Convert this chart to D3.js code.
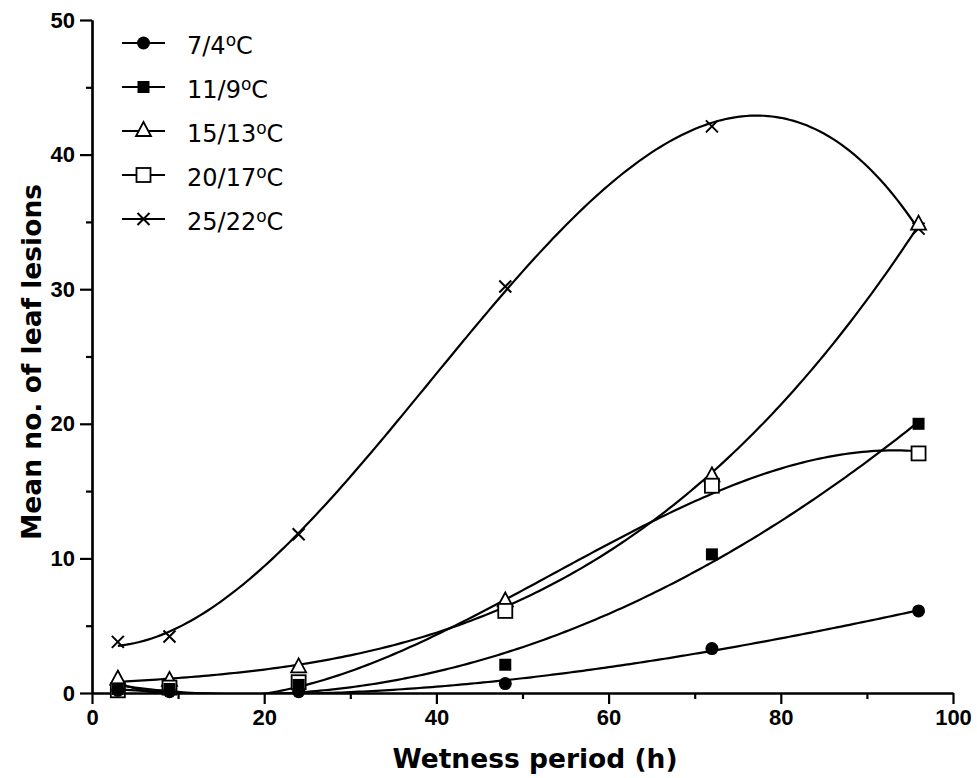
<!DOCTYPE html>
<html lang="en">
<head>
<meta charset="utf-8">
<title>Leaf lesions vs wetness period</title>
<style>
  body { margin: 0; background: #fff; }
  svg { display: block; font-family: "DejaVu Sans", sans-serif; }
  .tick text { font-weight: bold; font-size: 22px; }
  .axis-title { font-weight: bold; font-size: 26.5px; }
  .legend text { font-size: 24px; }
</style>
</head>
<body>
<svg></svg>
<script src="https://d3js.org/d3.v7.min.js"></script>
<script>
// wetness period (h)
var hours = [3, 9, 24, 48, 72, 96];

// series names and mean lesion counts
var seriesNames = ["7/4", "11/9", "15/13", "20/17", "25/22"];
var lesions74 = [0.2, 0.1, 0.1, 0.7, 3.3, 6.1];
var lesions119 = [0.3, 0.3, 0.6, 2.1, 10.3, 20.0];
var lesions1513 = [1.0, 0.9, 1.9, 6.8, 16.1, 34.8];
var lesions2017 = [0.2, 0.4, 0.8, 6.1, 15.4, 17.8];
var lesions2522 = [3.8, 4.2, 11.8, 30.2, 42.1, 34.5];

var xTicks = [0, 20, 40, 60, 80, 100];
var yTicks = [0, 10, 20, 30, 40, 50];

(function() {
  var width = 977, height = 778;
  var margin = {left: 92, right: 24, top: 20, bottom: 85};

  var svg = d3.select("svg")
    .attr("width", width)
    .attr("height", height);

  var x = d3.scaleLinear().domain([0, 100]).range([margin.left, width - margin.right]);
  var y = d3.scaleLinear().domain([0, 50]).range([height - margin.bottom, margin.top]);

  var series = [
    {name: seriesNames[0], values: lesions74, shape: "circle"},
    {name: seriesNames[1], values: lesions119, shape: "fsquare"},
    {name: seriesNames[2], values: lesions1513, shape: "triangle"},
    {name: seriesNames[3], values: lesions2017, shape: "osquare"},
    {name: seriesNames[4], values: lesions2522, shape: "cross"}
  ];

  // least squares polynomial fit (cubic)
  function polyfit(xs, ys, deg) {
    var n = deg + 1, A = [], i, j, k;
    for (i = 0; i < n; i++) {
      A.push([]);
      for (j = 0; j <= n; j++) A[i].push(0);
    }
    xs.forEach(function(xv, p) {
      for (i = 0; i < n; i++) {
        for (j = 0; j < n; j++) A[i][j] += Math.pow(xv, i + j);
        A[i][n] += ys[p] * Math.pow(xv, i);
      }
    });
    for (i = 0; i < n; i++) {
      var piv = i;
      for (k = i + 1; k < n; k++) if (Math.abs(A[k][i]) > Math.abs(A[piv][i])) piv = k;
      var tmp = A[i]; A[i] = A[piv]; A[piv] = tmp;
      for (k = i + 1; k < n; k++) {
        var f = A[k][i] / A[i][i];
        for (j = i; j <= n; j++) A[k][j] -= f * A[i][j];
      }
    }
    var c = new Array(n).fill(0);
    for (i = n - 1; i >= 0; i--) {
      var s = A[i][n];
      for (j = i + 1; j < n; j++) s -= A[i][j] * c[j];
      c[i] = s / A[i][i];
    }
    return function(xv) {
      var r = 0;
      for (var q = 0; q < n; q++) r += c[q] * Math.pow(xv, q);
      return r;
    };
  }

  svg.append("clipPath").attr("id", "plotclip")
    .append("rect")
    .attr("x", x(0)).attr("y", y(50))
    .attr("width", x(100) - x(0)).attr("height", y(0) - y(50));

  // axes
  svg.append("g")
    .attr("transform", "translate(0," + y(0) + ")")
    .call(d3.axisBottom(x).tickValues(xTicks).tickSize(11).tickPadding(5).tickSizeOuter(0));
  svg.append("g")
    .attr("transform", "translate(0," + y(0) + ")")
    .call(d3.axisBottom(x).tickValues(d3.range(10, 100, 20)).tickSize(6).tickFormat("").tickSizeOuter(0));
  svg.append("g")
    .attr("transform", "translate(" + x(0) + ",0)")
    .call(d3.axisLeft(y).tickValues(yTicks).tickSize(12).tickPadding(5).tickSizeOuter(0));
  svg.append("g")
    .attr("transform", "translate(" + x(0) + ",0)")
    .call(d3.axisLeft(y).tickValues(d3.range(5, 50, 10)).tickSize(6).tickFormat("").tickSizeOuter(0));

  svg.selectAll(".domain, .tick line")
    .attr("stroke", "#000")
    .attr("stroke-width", 2.2);
  svg.selectAll(".tick text").attr("fill", "#000");

  svg.append("text")
    .attr("class", "axis-title")
    .attr("x", 535).attr("y", 768)
    .attr("text-anchor", "middle")
    .text("Wetness period (h)");

  svg.append("text")
    .attr("class", "axis-title")
    .attr("transform", "translate(41,362) rotate(-90)")
    .attr("text-anchor", "middle")
    .text("Mean no. of leaf lesions");

  // fitted curves
  var line = d3.line()
    .x(function(d) { return x(d[0]); })
    .y(function(d) { return y(d[1]); });

  var curves = svg.append("g").attr("clip-path", "url(#plotclip)");
  series.forEach(function(s) {
    var fit = polyfit(hours, s.values, 3);
    var pts = d3.range(hours[0], hours[hours.length - 1] + 0.01, 0.5).map(function(h) {
      return [h, fit(h)];
    });
    curves.append("path")
      .attr("d", line(pts))
      .attr("fill", "none")
      .attr("stroke", "#000")
      .attr("stroke-width", 2.2);
  });

  function drawMarker(g, shape, cx, cy) {
    if (shape == "circle") {
      g.append("circle").attr("cx", cx).attr("cy", cy).attr("r", 6.5).attr("fill", "#000");
    } else if (shape == "fsquare") {
      g.append("rect").attr("x", cx - 6).attr("y", cy - 6).attr("width", 12).attr("height", 12).attr("fill", "#000");
    } else if (shape == "osquare") {
      g.append("rect").attr("x", cx - 7).attr("y", cy - 7).attr("width", 14).attr("height", 14)
        .attr("fill", "#fff").attr("stroke", "#000").attr("stroke-width", 1.8);
    } else if (shape == "triangle") {
      g.append("path")
        .attr("d", "M" + cx + "," + (cy - 9) + "L" + (cx + 7.5) + "," + (cy + 5) + "L" + (cx - 7.5) + "," + (cy + 5) + "Z")
        .attr("fill", "#fff").attr("stroke", "#000").attr("stroke-width", 1.8);
    } else if (shape == "cross") {
      g.append("path")
        .attr("d", "M" + (cx - 6) + "," + (cy - 6) + "L" + (cx + 6) + "," + (cy + 6) +
          "M" + (cx + 6) + "," + (cy - 6) + "L" + (cx - 6) + "," + (cy + 6))
        .attr("stroke", "#000").attr("stroke-width", 2).attr("fill", "none");
    }
  }

  var marks = svg.append("g");
  // open markers first so filled ones sit on top like the original
  [4, 2, 3, 1, 0].forEach(function(si) {
    var s = series[si];
    var g = marks.append("g");
    s.values.forEach(function(v, i) {
      drawMarker(g, s.shape, x(hours[i]), y(v));
    });
  });

  // legend
  var legend = svg.append("g").attr("class", "legend");
  series.forEach(function(s, i) {
    var ly = 43 + i * 44;
    var g = legend.append("g");
    g.append("line").attr("x1", 122).attr("x2", 165).attr("y1", ly).attr("y2", ly)
      .attr("stroke", "#000").attr("stroke-width", 2);
    drawMarker(g, s.shape, 143.5, ly);
    var t = g.append("text").attr("x", 187).attr("y", ly + 11);
    t.append("tspan").text(s.name);
    t.append("tspan").attr("dy", -8).attr("font-size", 17).text("o");
    t.append("tspan").attr("dy", 8).text("C");
  });
})();
</script>
</body>
</html>
